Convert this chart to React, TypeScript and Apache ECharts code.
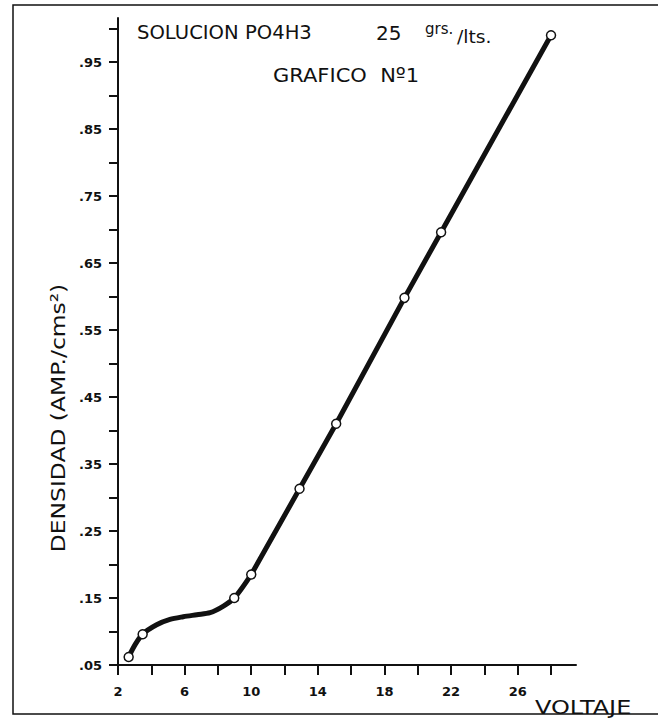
import React, { useEffect, useRef } from "react";
import * as echarts from "echarts";

// Measured points (circles)
const voltage = [2.64, 3.48, 8.98, 10, 12.9, 15.1, 19.2, 21.4, 28];
const density = [0.062, 0.096, 0.15, 0.185, 0.313, 0.41, 0.598, 0.696, 0.99];

// Drawn curve, low-voltage bend
const bendVoltage = [2.64, 3.02, 3.48, 4.32, 5.12, 5.92, 6.73, 7.53, 8.33, 8.98, 10];
const bendDensity = [0.062, 0.08, 0.096, 0.11, 0.118, 0.122, 0.125, 0.128, 0.138, 0.15, 0.185];
// Drawn straight part
const lineVoltage = [10, 12.9, 15.1, 19.2, 21.4, 28];
const lineDensity = [0.185, 0.313, 0.41, 0.598, 0.696, 0.99];

// Axis ticks and labels
const xTickValues = [2, 4, 6, 8, 10, 12, 14, 16, 18, 20, 22, 24, 26, 28];
const xLabelValues = [2, 6, 10, 14, 18, 22, 26];
const yTickValues = [0.05, 0.1, 0.15, 0.2, 0.25, 0.3, 0.35, 0.4, 0.45, 0.5, 0.55, 0.6, 0.65, 0.7, 0.75, 0.8, 0.85, 0.9, 0.95, 1.0];
const yLabelValues = [0.05, 0.15, 0.25, 0.35, 0.45, 0.55, 0.65, 0.75, 0.85, 0.95];

const FONT = "DejaVu Sans";
const INK = "#111";

export default function App() {
  const ref = useRef<HTMLDivElement>(null);
  useEffect(() => {
    if (!ref.current) return;
    const chart = echarts.init(ref.current, null, { renderer: "svg" });
    const bend = bendVoltage.map((v, i) => [v, bendDensity[i]]);
    const straight = lineVoltage.map((v, i) => [v, lineDensity[i]]);
    const pts = voltage.map((v, i) => [v, density[i]]);
    chart.setOption({
      animation: false,
      backgroundColor: "#fff",
      grid: { left: 118, top: 18, width: 458, height: 647, containLabel: false },
      xAxis: {
        type: "value",
        min: 2,
        max: 29.5,
        splitLine: { show: false },
        axisLine: { show: true, onZero: false, lineStyle: { color: INK, width: 2 } },
        axisTick: { show: true, customValues: xTickValues, length: 10, lineStyle: { color: INK, width: 2 } },
        axisLabel: {
          customValues: xLabelValues,
          margin: 20,
          color: INK,
          fontFamily: FONT,
          fontWeight: "bold",
          fontSize: 13,
          formatter: (v: number) => String(v),
        },
      },
      yAxis: {
        type: "value",
        min: 0.05,
        max: 1.0157,
        splitLine: { show: false },
        axisLine: { show: true, onZero: false, lineStyle: { color: INK, width: 2 } },
        axisTick: { show: true, customValues: yTickValues, length: 9, lineStyle: { color: INK, width: 2 } },
        axisLabel: {
          customValues: yLabelValues,
          margin: 16,
          color: INK,
          fontFamily: FONT,
          fontWeight: "bold",
          fontSize: 13,
          formatter: (v: number) => v.toFixed(2).replace(/^0/, ""),
        },
      },
      graphic: [
        {
          type: "rect",
          shape: { x: 13, y: 5, width: 700, height: 709 },
          style: { fill: "none", stroke: INK, lineWidth: 1.5 },
          silent: true,
        },
        {
          type: "text",
          x: 137,
          y: 32.5,
          scaleX: 0.98,
          style: { text: "SOLUCION PO4H3", font: `20px '${FONT}'`, fill: INK, align: "left", verticalAlign: "middle" },
        },
        {
          type: "text",
          x: 376,
          y: 32.5,
          style: { text: "25", font: `20px '${FONT}'`, fill: INK, align: "left", verticalAlign: "middle" },
        },
        {
          type: "text",
          x: 425,
          y: 29,
          style: { text: "grs.", font: `15px '${FONT}'`, fill: INK, align: "left", verticalAlign: "middle" },
        },
        {
          type: "text",
          x: 457,
          y: 37,
          scaleX: 1.1,
          style: { text: "/lts.", font: `17px '${FONT}'`, fill: INK, align: "left", verticalAlign: "middle" },
        },
        {
          type: "text",
          x: 273,
          y: 75.5,
          scaleX: 1.05,
          style: { text: "GRAFICO  Nº1", font: `20px '${FONT}'`, fill: INK, align: "left", verticalAlign: "middle" },
        },
        {
          type: "text",
          x: 535,
          y: 707,
          scaleX: 1.2,
          style: { text: "VOLTAJE", font: `20px '${FONT}'`, fill: INK, align: "left", verticalAlign: "middle" },
        },
        {
          type: "text",
          x: 58,
          y: 418,
          rotation: Math.PI / 2,
          scaleX: 1.17,
          style: { text: "DENSIDAD (AMP./cms²)", font: `20px '${FONT}'`, fill: INK, align: "center", verticalAlign: "middle" },
        },
      ],
      series: [
        {
          type: "line",
          data: bend,
          smooth: 0.3,
          showSymbol: false,
          symbol: "none",
          lineStyle: { color: INK, width: 5 },
          z: 2,
        },
        {
          type: "line",
          data: straight,
          smooth: false,
          showSymbol: false,
          symbol: "none",
          lineStyle: { color: INK, width: 5 },
          z: 2,
        },
        {
          type: "scatter",
          data: pts,
          symbol: "circle",
          symbolSize: 9,
          itemStyle: { color: "#fff", opacity: 1, borderColor: INK, borderWidth: 1.5 },
          z: 3,
        },
      ],
    });
    return () => chart.dispose();
  }, []);
  return (
    <div
      ref={ref}
      style={{ position: "absolute", left: 0, top: 0, width: 658, height: 721, background: "#fff" }}
    />
  );
}
